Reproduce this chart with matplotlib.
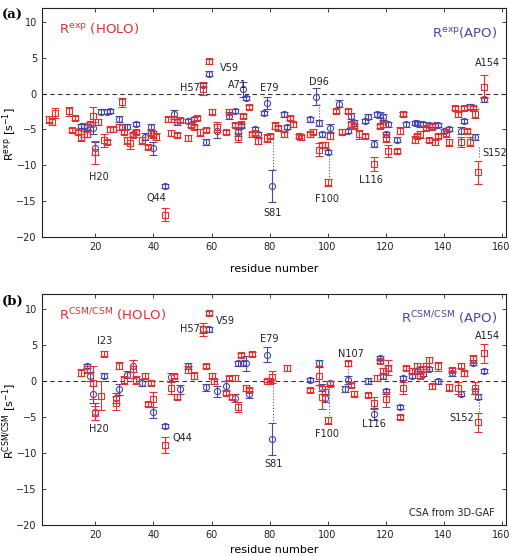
import numpy as np
import matplotlib
matplotlib.use("Agg")
import matplotlib.pyplot as plt

RED = '#e0322f'
BLUE = '#4848a8'

# ---- panel (a): R_exp ----
a_holo_res = [4, 5, 6, 11, 12, 13, 14, 15, 16, 17, 18, 19, 20, 21, 23, 24, 25, 26, 28, 29,
              30, 31, 32, 33, 34, 36, 38, 39, 40, 41, 44, 45, 46, 47, 48, 49, 52, 53, 54, 55,
              56, 57, 58, 59, 60, 62, 65, 66, 68, 69, 70, 71, 73, 74, 75, 76, 79, 80, 82, 83,
              85, 87, 88, 90, 91, 94, 95, 97, 98, 99, 100, 101, 103, 105, 107, 108, 109, 111, 113, 116,
              118, 119, 120, 121, 124, 125, 126, 130, 131, 132, 134, 135, 136, 137, 138, 141, 142, 144, 145, 146,
              147, 148, 149, 150, 151, 152, 154]
a_holo_val = [-3.6, -3.9, -2.7, -2.45, -5.1, -3.4, -5.4, -6.1, -5.6, -5.7, -4.3, -3.1, -8.2, -4.0, -6.5, -6.7, -5.0, -5.0, -4.7, -1.2,
              -5.4, -6.5, -6.9, -5.8, -5.4, -6.5, -7.4, -5.4, -5.7, -6.0, -16.9, -3.6, -5.5, -3.6, -5.8, -3.7, -6.2, -4.4, -4.7, -3.4,
              -5.4, 0.7, -5.1, 4.5, -2.5, -4.7, -5.4, -2.5, -4.4, -6.1, -4.3, -3.1, -1.9, -5.7, -5.5, -6.6, -6.2, -5.9, -4.5, -4.8,
              -5.7, -3.4, -4.3, -5.9, -6.1, -5.7, -5.3, -7.8, -7.1, -7.1, -12.4, -5.9, -2.4, -5.3, -2.4, -4.3, -4.5, -5.7, -5.9, -9.8,
              -4.5, -4.3, -6.2, -8.0, -8.0, -5.2, -2.8, -6.4, -5.9, -5.7, -4.8, -6.5, -4.6, -6.8, -5.9, -5.5, -6.8, -2.0, -2.9, -6.7,
              -2.0, -5.2, -6.7, -2.0, -2.8, -11.0, 1.0]
a_holo_err = [0.5, 0.5, 0.7, 0.6, 0.3, 0.3, 0.3, 0.5, 0.4, 0.3, 0.4, 1.3, 1.6, 0.4, 0.9, 0.3, 0.3, 0.3, 0.4, 0.6,
              0.3, 0.5, 0.8, 0.3, 0.3, 0.5, 0.3, 0.5, 0.5, 0.5, 0.9, 0.3, 0.4, 0.3, 0.3, 0.3, 0.4, 0.3, 0.3, 0.3,
              0.5, 0.9, 0.3, 0.3, 0.3, 0.7, 0.3, 0.3, 0.3, 0.6, 0.3, 0.3, 0.3, 0.3, 0.3, 0.4, 0.5, 0.3, 0.5, 0.3,
              0.3, 0.3, 0.3, 0.3, 0.3, 0.3, 0.4, 0.9, 0.4, 0.3, 0.5, 0.4, 0.3, 0.3, 0.3, 0.3, 0.3, 0.6, 0.3, 1.0,
              0.3, 0.3, 0.5, 0.9, 0.3, 0.5, 0.3, 0.5, 0.3, 0.5, 0.3, 0.3, 0.3, 0.4, 0.3, 0.5, 0.5, 0.3, 0.3, 0.7,
              0.3, 0.3, 0.6, 0.3, 0.6, 1.6, 1.6]

a_apo_res = [15, 16, 17, 18, 19, 20, 22, 24, 25, 28, 29, 31, 33, 34, 37, 39, 40, 44, 47, 48,
             52, 54, 57, 58, 59, 62, 66, 68, 69, 70, 71, 72, 75, 76, 78, 79, 81, 85, 86, 94,
             96, 97, 98, 100, 101, 104, 107, 108, 109, 113, 114, 116, 117, 118, 119, 120, 121, 124, 126, 127,
             130, 131, 132, 133, 135, 137, 138, 140, 142, 146, 147, 149, 151, 154]
a_apo_val = [-4.5, -4.5, -4.7, -4.3, -4.8, -7.6, -2.5, -2.5, -2.4, -3.5, -4.7, -4.6, -5.7, -4.2, -6.0, -4.7, -7.6, -12.9, -2.9, -4.0,
             -3.8, -3.5, 1.2, -6.7, 2.8, -5.2, -3.1, -2.4, -5.4, -4.5, 0.6, -0.6, -5.0, -5.7, -2.7, -1.3, -12.9, -2.9, -4.7, -3.6,
             -0.4, -4.1, -5.7, -8.1, -4.8, -1.4, -5.2, -3.1, -4.1, -3.8, -3.2, -7.0, -2.9, -3.0, -3.3, -5.7, -4.3, -6.4, -2.8, -4.3,
             -4.1, -4.1, -4.3, -4.3, -4.4, -4.4, -4.4, -5.2, -4.9, -5.2, -3.8, -1.8, -6.1, -0.8]
a_apo_err = [0.3, 0.3, 0.4, 0.4, 0.8, 0.9, 0.3, 0.3, 0.3, 0.4, 0.4, 0.3, 0.3, 0.3, 0.5, 0.4, 0.9, 0.3, 0.6, 0.4,
             0.3, 0.3, 0.3, 0.4, 0.3, 1.0, 0.5, 0.3, 0.5, 0.3, 1.1, 0.3, 0.3, 0.3, 0.3, 0.9, 2.2, 0.3, 0.3, 0.3,
             1.2, 0.4, 0.3, 0.3, 0.6, 0.5, 0.3, 0.4, 0.4, 0.3, 0.3, 0.5, 0.3, 0.4, 0.4, 0.3, 0.3, 0.3, 0.3, 0.3,
             0.3, 0.3, 0.3, 0.3, 0.3, 0.3, 0.3, 0.3, 0.3, 0.5, 0.3, 0.3, 0.4, 0.3]

# ---- panel (b): R_CSM/CSM ----
b_holo_res = [15, 17, 19, 20, 22, 23, 27, 28, 30, 33, 34, 37, 38, 39, 40, 44, 46, 47, 48, 52,
              54, 57, 58, 59, 60, 61, 65, 66, 67, 68, 69, 70, 72, 73, 74, 79, 80, 81, 86, 94,
              97, 98, 99, 100, 101, 107, 108, 109, 114, 116, 117, 118, 119, 120, 121, 125, 126, 127, 129, 131,
              132, 133, 134, 135, 136, 138, 142, 143, 145, 146, 147, 150, 151, 152, 154]
b_holo_val = [1.1, 1.6, -0.3, -4.5, -2.1, 3.75, -3.1, 2.1, 0.1, 1.6, 0.1, 0.7, -3.2, -0.3, -2.6, -8.9, -1.0, 0.6, -2.2, 1.5,
              0.7, 7.1, 2.0, 9.4, 0.7, -0.1, -1.7, 0.4, -2.2, 0.4, -3.6, 3.6, -1.0, -1.3, 3.7, 0.0, 0.0, 0.5, 1.8, -1.3,
              0.7, -2.3, -1.6, -5.5, -0.4, 2.4, -0.6, -1.8, -2.0, -3.1, 0.4, 2.7, 1.3, -2.6, 1.8, -5.0, -1.0, 1.8, 1.3, 2.0,
              0.6, 1.6, 2.0, 2.9, -0.8, 2.0, -0.9, 1.5, -1.0, 2.1, 1.0, 3.0, -1.0, -5.8, 3.8]
b_holo_err = [0.5, 0.5, 2.3, 1.0, 2.0, 0.3, 1.0, 0.5, 0.5, 1.2, 0.5, 0.3, 0.3, 0.3, 1.0, 1.1, 0.8, 0.3, 0.3, 0.5,
              0.5, 0.9, 0.3, 0.3, 0.3, 0.3, 0.3, 0.3, 0.3, 0.4, 0.7, 0.3, 0.4, 0.3, 0.3, 0.2, 0.2, 0.8, 0.4, 0.3,
              1.3, 1.6, 0.4, 0.5, 0.3, 0.3, 0.3, 0.3, 0.3, 0.8, 0.4, 0.3, 0.4, 1.0, 1.0, 0.3, 0.8, 0.3, 0.4, 0.4,
              0.3, 0.4, 0.4, 0.4, 0.3, 0.6, 0.5, 0.3, 0.8, 0.3, 0.3, 0.6, 0.8, 1.3, 1.3]

b_apo_res = [17, 18, 19, 20, 23, 27, 28, 31, 33, 36, 40, 44, 46, 49, 52, 57, 58, 59, 62, 65,
             68, 69, 71, 72, 73, 79, 81, 94, 97, 98, 99, 101, 106, 107, 114, 116, 118, 119, 120, 121,
             125, 126, 129, 131, 132, 133, 135, 138, 143, 146, 150, 151, 152, 154]
b_apo_val = [2.0, 0.6, -1.9, -4.3, 0.7, -2.4, -1.2, 0.8, 2.0, -0.3, -4.4, -6.3, 0.5, -1.2, 2.0, 7.1, -0.9, 7.1, -1.5, -0.7,
             -2.4, 2.4, 2.4, 2.4, -1.9, 3.6, -8.1, 0.1, 2.4, -1.0, -2.4, -0.3, -1.2, 0.1, -0.1, -4.6, 3.1, 0.6, -1.5, 1.8,
             -3.7, 0.4, 0.7, 1.3, 1.6, 0.9, 1.6, -0.1, 1.0, -1.8, 2.5, -1.5, -2.2, 1.3]
b_apo_err = [0.3, 0.6, 1.2, 1.2, 0.3, 0.7, 0.8, 0.5, 0.8, 0.5, 0.8, 0.3, 0.5, 0.6, 0.4, 0.5, 0.5, 0.3, 0.8, 0.6,
             0.6, 0.3, 0.3, 1.0, 0.5, 1.0, 2.2, 0.3, 0.5, 0.5, 0.5, 0.3, 0.4, 0.5, 0.4, 0.8, 0.3, 0.4, 0.4, 0.4,
             0.3, 0.3, 0.3, 0.3, 0.3, 0.3, 0.3, 0.3, 0.3, 0.3, 0.3, 0.4, 0.4, 0.3]

# labels: (text, residue, value, ha)
a_labels = [('H20', 21, -11.6, 'center'), ('Q44', 41, -14.6, 'center'), ('H57', 56, 0.8, 'right'),
            ('V59', 63, 3.6, 'left'), ('A71', 69, 1.2, 'center'), ('E79', 80, 0.8, 'center'),
            ('D96', 97, 1.6, 'center'), ('A154', 155, 4.3, 'center'), ('S81', 81.2, -16.7, 'center'),
            ('F100', 99.8, -14.7, 'center'), ('L116', 115, -12.1, 'center'), ('S152', 153.5, -8.3, 'left')]
b_labels = [('I23', 23, 5.5, 'center'), ('H57', 56, 7.1, 'right'), ('V59', 61.5, 8.3, 'left'),
            ('E79', 80, 5.8, 'center'), ('N107', 108, 3.75, 'center'), ('A154', 155, 6.25, 'center'),
            ('H20', 21, -6.7, 'center'), ('Q44', 50, -8.0, 'center'), ('S81', 81.4, -11.6, 'center'),
            ('F100', 99.8, -7.4, 'center'), ('L116', 116, -6.0, 'center'), ('S152', 150.5, -5.2, 'right')]
# dotted connectors: (residue, y0, y1)
a_links = [(81.3, -5.9, -10.6), (100.4, -8.5, -11.9), (97, -1.5, -3.8), (152.3, -7.5, -8.9)]
b_links = [(81.3, 0.0, -5.9), (100.4, -1.0, -4.8), (107, 2.0, -0.5), (152.3, -2.6, -4.4)]

fig = plt.figure(figsize=(5.1, 5.56), dpi=100)
ax1 = fig.add_axes([0.082, 0.574, 0.910, 0.412])
ax2 = fig.add_axes([0.082, 0.056, 0.910, 0.415])


def draw(ax, hr, hv, he, ar, av, ae, labels, links, ylab, sup, apo_txt, xpad):
    ax.axhline(0, color='#333333', lw=0.8, ls=(0, (4, 3)), zorder=1)
    for x, y0, y1 in links:
        ax.plot([x, x], [y0, y1], color='#555555', lw=0.8, ls=':', zorder=1)
    ax.errorbar(ar, av, yerr=ae, fmt='o', ms=4.4, mfc='none', mec=BLUE, mew=0.8,
                ecolor=BLUE, elinewidth=0.8, capsize=2.8, capthick=0.8, zorder=2)
    ax.errorbar(hr, hv, yerr=he, fmt='s', ms=3.8, mfc='none', mec=RED, mew=0.8,
                ecolor=RED, elinewidth=0.8, capsize=2.8, capthick=0.8, zorder=3)
    for t, x, y, ha in labels:
        ax.text(x, y, t, fontsize=7, ha=ha, va='center', color='#222222')
    ax.set_xlim(1.5, 161.5)
    ax.set_ylim(-20, 12)
    ax.set_xticks(range(20, 161, 20))
    ax.set_yticks(range(-20, 11, 5))
    ax.set_yticklabels(['\u221220', '\u221215', '\u221210', '\u22125', '0', '5', '10'])
    ax.tick_params(direction='in', top=True, right=True, labelsize=7, length=3, width=0.6,
                   colors='#222222')
    for s in ax.spines.values():
        s.set_linewidth(0.8)
        s.set_color('#222222')
    ax.set_xlabel('residue number', fontsize=8, labelpad=xpad)
    ax.set_ylabel(ylab, fontsize=8)
    ax.yaxis.set_label_coords(-0.05, 0.45)
    ax.text(7.5, 9.1, r'R$^{\rm %s}$ (HOLO)' % sup, color=RED, fontsize=9.5, va='center')
    ax.text(158.5, 8.6, apo_txt, color=BLUE, fontsize=9.5, va='center', ha='right')


draw(ax1, a_holo_res, a_holo_val, a_holo_err, a_apo_res, a_apo_val, a_apo_err,
     a_labels, a_links, r'R$^{\rm exp}$ [s$^{-1}$]', 'exp', r'R$^{\rm exp}$(APO)', 9)
draw(ax2, b_holo_res, b_holo_val, b_holo_err, b_apo_res, b_apo_val, b_apo_err,
     b_labels, b_links, r'R$^{\rm CSM/CSM}$ [s$^{-1}$]', 'CSM/CSM', r'R$^{\rm CSM/CSM}$ (APO)', 4)
ax2.text(143, -18.3, 'CSA from 3D-GAF', fontsize=7, ha='center', va='center', color='#222222')

fig.text(0.004, 0.972, '(a)', fontsize=9.5, fontweight='bold', family='DejaVu Serif', va='center')
fig.text(0.004, 0.458, '(b)', fontsize=9.5, fontweight='bold', family='DejaVu Serif', va='center')

fig.savefig('out.png', dpi=100)
